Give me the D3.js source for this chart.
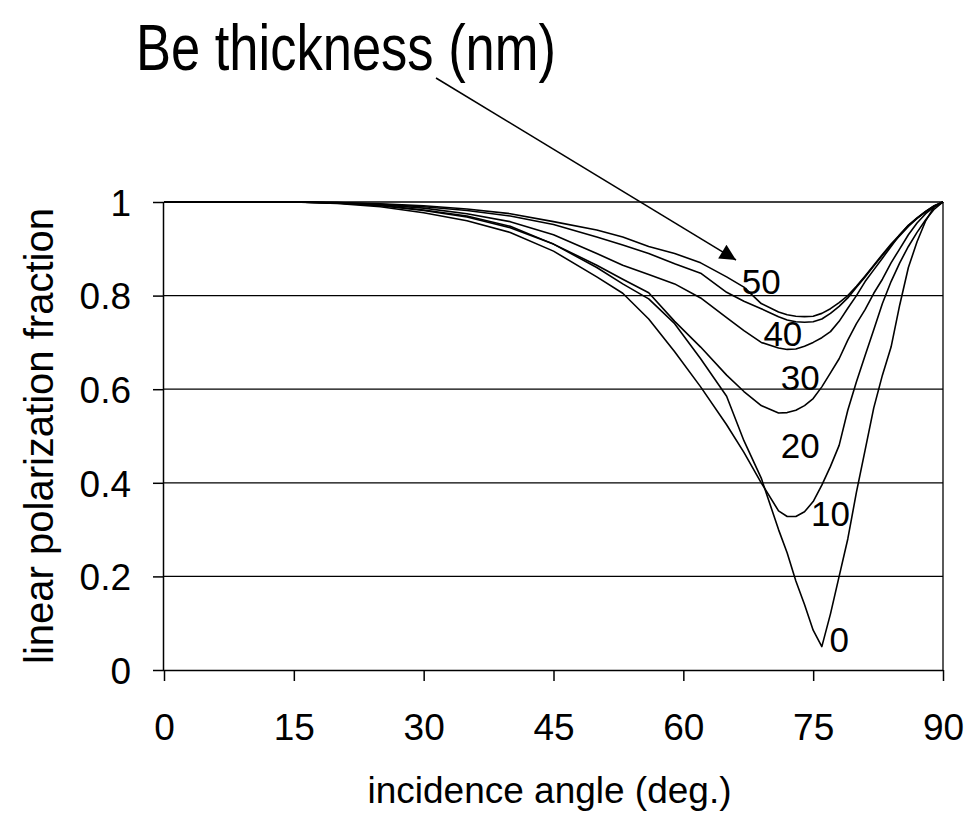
<!DOCTYPE html>
<html>
<head>
<meta charset="utf-8">
<script src="https://cdn.jsdelivr.net/npm/d3@7/dist/d3.min.js"></script>
<style>
  html, body { margin: 0; padding: 0; background: #fff; }
  svg { display: block; }
  text { font-family: "Liberation Sans", Arial, sans-serif; fill: #000; }
</style>
</head>
<body>
<svg id="chart" width="974" height="820"></svg>
<script>
// ---- data ----
const angles = [0,5,10,15,20,25,30,35,40,45,50,53,56,59,62,65,67,69,71,72,73,74,75,76,77,78,79,80,81,82,83,84,85,86,87,88,89,90];

const be0  = [1,1,1,1,0.998,0.993,0.983,0.97,0.948,0.91,0.86,0.825,0.793,0.74,0.665,0.585,0.49,0.41,0.30,0.25,0.19,0.14,0.085,0.05,0.12,0.2,0.28,0.38,0.47,0.56,0.63,0.69,0.78,0.86,0.915,0.96,0.99,1];
const be10 = [1,1,1,1,0.997,0.99,0.977,0.96,0.935,0.895,0.84,0.805,0.75,0.68,0.605,0.524,0.465,0.40,0.34,0.328,0.328,0.338,0.36,0.395,0.435,0.48,0.555,0.616,0.672,0.727,0.783,0.83,0.87,0.905,0.935,0.962,0.985,1];
const be20 = [1,1,1,1,0.998,0.992,0.982,0.968,0.945,0.91,0.865,0.835,0.806,0.745,0.69,0.63,0.595,0.565,0.549,0.55,0.555,0.565,0.58,0.605,0.635,0.665,0.705,0.74,0.77,0.805,0.835,0.87,0.9,0.93,0.955,0.975,0.99,1];
const be30 = [1,1,1,1,0.998,0.994,0.987,0.975,0.958,0.93,0.89,0.865,0.845,0.825,0.795,0.753,0.725,0.70,0.688,0.685,0.686,0.692,0.70,0.71,0.723,0.745,0.773,0.80,0.83,0.855,0.88,0.905,0.93,0.95,0.965,0.98,0.992,1];
const be40 = [1,1,1,1,0.999,0.995,0.99,0.982,0.97,0.952,0.925,0.908,0.89,0.868,0.848,0.807,0.788,0.772,0.755,0.748,0.744,0.743,0.744,0.75,0.762,0.777,0.795,0.818,0.84,0.863,0.886,0.908,0.928,0.948,0.965,0.979,0.991,1];
const be50 = [1,1,1,1,0.999,0.996,0.992,0.985,0.975,0.958,0.94,0.925,0.905,0.89,0.87,0.84,0.818,0.783,0.765,0.759,0.756,0.755,0.756,0.762,0.772,0.785,0.80,0.82,0.842,0.865,0.888,0.91,0.93,0.95,0.966,0.98,0.992,1];

const seriesNames  = ["0","10","20","30","40","50"];
const seriesValues = [be0, be10, be20, be30, be40, be50];
// where each curve label sits (angle, value)
const labelAngles = [78.0, 77.0, 73.5, 73.5, 71.5, 69.0];
const labelValues = [0.065, 0.335, 0.48, 0.625, 0.72, 0.83];

const xTicks = [0,15,30,45,60,75,90];
const yTicks = [0,0.2,0.4,0.6,0.8,1];
const yTickLabels = ["0","0.2","0.4","0.6","0.8","1"];

const titleText  = "Be thickness (nm)";
const xTitleText = "incidence angle (deg.)";
const yTitleText = "linear polarization fraction";

// ---- layout ----
const svg = d3.select("#chart");
const pL = 164, pR = 943, pT = 202, pB = 670;
const x = d3.scaleLinear().domain([0, 90]).range([pL, pR]);
const y = d3.scaleLinear().domain([0, 1]).range([pB, pT]);

// gridlines
svg.append("g").selectAll("line").data(yTicks.filter(d => d > 0)).join("line")
  .attr("x1", pL).attr("x2", pR)
  .attr("y1", d => y(d)).attr("y2", d => y(d))
  .attr("stroke", "#000").attr("stroke-width", 1.3);

// right border
svg.append("line").attr("x1", pR).attr("x2", pR)
  .attr("y1", pT).attr("y2", pB)
  .attr("stroke", "#000").attr("stroke-width", 1.3);

// x axis
const xAxis = d3.axisBottom(x).tickValues(xTicks).tickSize(11).tickPadding(34)
  .tickFormat(d3.format("d"));
const gx = svg.append("g").attr("transform", `translate(0,${pB})`).call(xAxis);
gx.select(".domain").attr("stroke", "#000").attr("stroke-width", 1.5)
  .attr("d", `M${pL},0.5H${pR}`);
gx.selectAll(".tick line").attr("stroke", "#000").attr("stroke-width", 1.5);
gx.selectAll(".tick text").attr("font-size", 37).attr("dy", 0)
  .attr("y", 70).style("font-family", "Liberation Sans, Arial, sans-serif");

// y axis
const yAxis = d3.axisLeft(y).tickValues(yTicks).tickSize(11).tickPadding(22)
  .tickFormat((d, i) => yTickLabels[i]);
const gy = svg.append("g").attr("transform", `translate(${pL},0)`).call(yAxis);
gy.select(".domain").attr("stroke", "#000").attr("stroke-width", 1.5)
  .attr("d", `M-0.5,${pT}V${pB}`);
gy.selectAll(".tick line").attr("stroke", "#000").attr("stroke-width", 1.5);
gy.selectAll(".tick text").attr("font-size", 37).attr("dy", "0.36em")
  .style("font-family", "Liberation Sans, Arial, sans-serif");

// curves
const line = d3.line().x((d, i) => x(angles[i])).y(d => y(d)).curve(d3.curveLinear);
svg.append("g").selectAll("path").data(seriesValues).join("path")
  .attr("d", d => line(d))
  .attr("fill", "none").attr("stroke", "#000").attr("stroke-width", 1.6)
  .attr("stroke-linejoin", "round");

// curve labels
svg.append("g").selectAll("text").data(seriesNames).join("text")
  .attr("x", (d, i) => x(labelAngles[i]))
  .attr("y", (d, i) => y(labelValues[i]))
  .attr("text-anchor", "middle").attr("dy", "0.36em")
  .attr("font-size", 35)
  .text(d => d);

// title
svg.append("text").attr("x", 136).attr("y", 70)
  .attr("font-size", 64)
  .attr("textLength", 420).attr("lengthAdjust", "spacingAndGlyphs")
  .style("font-family", "'Liberation Sans Narrow', 'Liberation Sans', Arial, sans-serif")
  .text(titleText);

// arrow
svg.append("defs").append("marker")
  .attr("id", "arrowhead").attr("viewBox", "0 0 10 10")
  .attr("refX", 10).attr("refY", 5)
  .attr("markerWidth", 22).attr("markerHeight", 16)
  .attr("markerUnits", "userSpaceOnUse")
  .attr("orient", "auto")
  .append("path").attr("d", "M0,0L10,5L0,10Z").attr("fill", "#000");
svg.append("line")
  .attr("x1", 436).attr("y1", 78).attr("x2", 736).attr("y2", 260)
  .attr("stroke", "#000").attr("stroke-width", 1.5)
  .attr("marker-end", "url(#arrowhead)");

// axis titles
svg.append("text").attr("x", (pL + pR) / 2 - 4).attr("y", 803)
  .attr("text-anchor", "middle").attr("font-size", 37)
  .text(xTitleText);
svg.append("text")
  .attr("transform", `translate(53,${(pT + pB) / 2}) rotate(-90)`)
  .attr("text-anchor", "middle").attr("font-size", 40)
  .text(yTitleText);
</script>
</body>
</html>
